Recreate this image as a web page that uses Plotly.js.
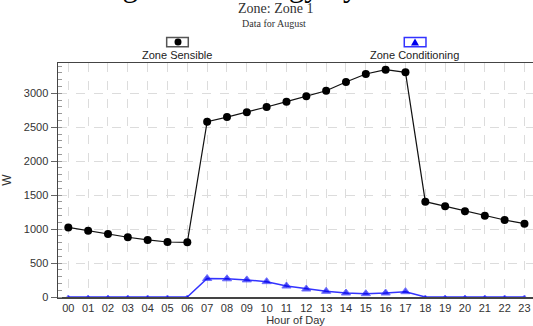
<!DOCTYPE html>
<html>
<head>
<meta charset="utf-8">
<script src="https://cdn.plot.ly/plotly-3.0.1.min.js"></script>
<style>html,body{margin:0;padding:0;background:#fff;}#chart{width:533px;height:326px;}</style>
</head>
<body>
<div id="chart"></div>
<script>
const hours = ["00","01","02","03","04","05","06","07","08","09","10","11","12","13","14","15","16","17","18","19","20","21","22","23"];
const zoneSensible = [1025,975,928,880,840,810,805,2582,2650,2720,2798,2877,2955,3038,3166,3284,3348,3309,1404,1335,1262,1198,1134,1080];
const zoneConditioning = [0,0,0,0,0,0,0,272,268,252,226,162,118,84,59,49,59,78,0,0,0,0,0,0];
const seriesNames = ["Zone Sensible","Zone Conditioning"];

const condSizes = zoneConditioning.map(v => v === 0 ? 4 : 8);

const traces = [
  {x: hours, y: zoneSensible, name: seriesNames[0], type: 'scatter', mode: 'lines+markers',
   line: {color: '#111', width: 1.2}, marker: {color: '#000', size: 8, symbol: 'circle'}, cliponaxis: true},
  {x: hours, y: zoneConditioning, name: seriesNames[1], type: 'scatter', mode: 'lines+markers',
   line: {color: '#3333ff', width: 1.5}, marker: {color: '#0000ee', size: condSizes, symbol: 'triangle-up'}, cliponaxis: true}
];

const layout = {
  width: 533, height: 326,
  margin: {l: 58, r: 0, t: 63, b: 29},
  paper_bgcolor: '#fff', plot_bgcolor: '#fff',
  showlegend: false,
  font: {family: 'Liberation Sans, Arial, sans-serif', size: 11, color: '#333'},
  xaxis: {
    type: 'category', range: [-0.52, 23.43],
    showgrid: true, gridcolor: '#dcdcdc', griddash: 'dash', gridwidth: 1,
    showline: true, linecolor: '#444', linewidth: 1.5, mirror: true,
    ticks: '', tickfont: {size: 11, color: '#333'}, ticklen: 0,
    title: {text: 'Hour of Day', font: {size: 11, color: '#333'}, standoff: 0},
    automargin: false, zeroline: false, fixedrange: true
  },
  yaxis: {
    range: [0, 3446], dtick: 500, tick0: 0,
    showgrid: true, gridcolor: '#dcdcdc', griddash: 'dash', gridwidth: 1,
    showline: true, linecolor: '#444', linewidth: 1.5,
    ticks: 'outside', ticklen: 6, tickcolor: '#666', tickwidth: 1,
    minor: {dtick: 100, ticks: 'inside', ticklen: 4, tickcolor: '#999', showgrid: false},
    tickfont: {size: 11, color: '#333'},
    title: {text: 'W', font: {size: 12, color: '#333'}, standoff: 14},
    automargin: false, zeroline: false, fixedrange: true
  },
  annotations: [
    {text: 'Average Zone Energy by Hour', xref: 'paper', yref: 'paper', x: 0.383, y: 1.246, xanchor: 'center', yanchor: 'bottom',
     showarrow: false, font: {family: 'Liberation Serif, Times New Roman, serif', size: 31, color: '#000'}},
    {text: 'Zone: Zone 1', xref: 'paper', yref: 'paper', x: 0.457, y: 1.235, xanchor: 'center', yanchor: 'middle',
     showarrow: false, font: {family: 'Liberation Serif, Times New Roman, serif', size: 14, color: '#333'}},
    {text: 'Data for August', xref: 'paper', yref: 'paper', x: 0.455, y: 1.168, xanchor: 'center', yanchor: 'middle',
     showarrow: false, font: {family: 'Liberation Serif, Times New Roman, serif', size: 10, color: '#333'}},
    {text: seriesNames[0], xref: 'paper', yref: 'paper', x: 0.2505, y: 1.035, xanchor: 'center', yanchor: 'middle',
     showarrow: false, font: {size: 11, color: '#222'}},
    {text: seriesNames[1], xref: 'paper', yref: 'paper', x: 0.7495, y: 1.035, xanchor: 'center', yanchor: 'middle',
     showarrow: false, font: {size: 11, color: '#222'}}
  ],
  shapes: [
    {type: 'rect', xref: 'paper', yref: 'paper', x0: 0.2288, x1: 0.2743, y0: 1.069, y1: 1.109,
     line: {color: '#555', width: 1.5}, fillcolor: '#fff'},
    {type: 'circle', xref: 'paper', yref: 'paper', x0: 0.2453, x1: 0.2600, y0: 1.0748, y1: 1.1047,
     line: {color: '#000', width: 0}, fillcolor: '#000'},
    {type: 'rect', xref: 'paper', yref: 'paper', x0: 0.7290, x1: 0.7747, y0: 1.069, y1: 1.109,
     line: {color: '#3333ff', width: 1.5}, fillcolor: '#fff'},
    {type: 'path', xref: 'paper', yref: 'paper', path: 'M 0.7432 1.0748 L 0.7600 1.0748 L 0.7516 1.1047 Z',
     line: {color: '#0000ee', width: 0}, fillcolor: '#0000ee'}
  ]
};

Plotly.newPlot('chart', traces, layout, {displayModeBar: false, staticPlot: true});
</script>
</body>
</html>
